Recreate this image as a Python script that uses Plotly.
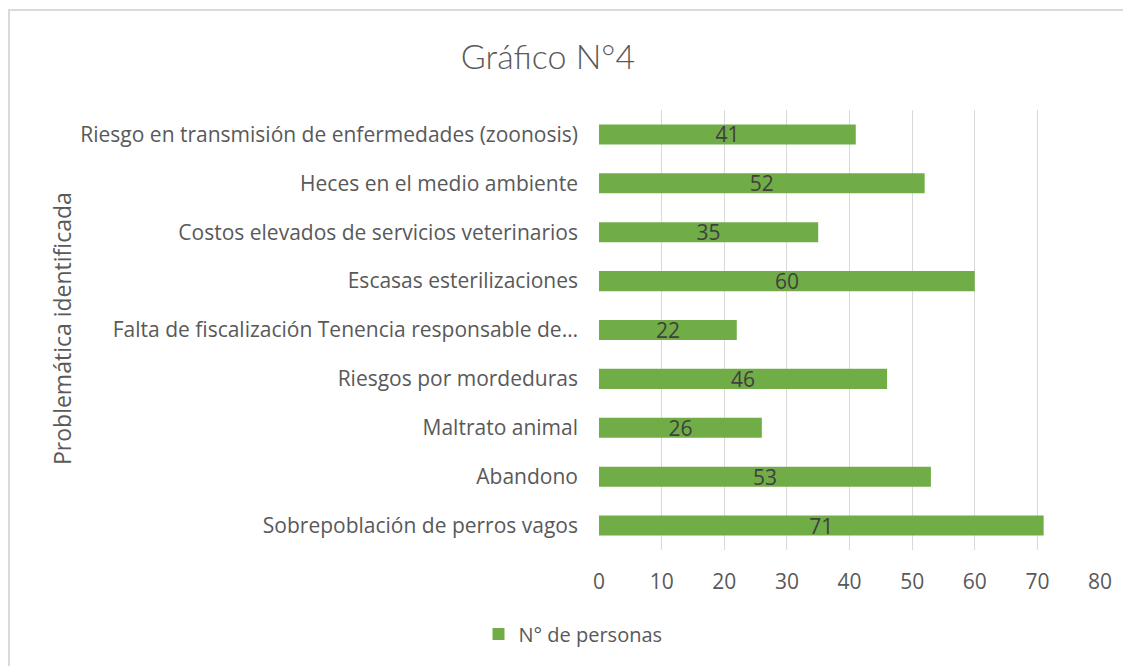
import plotly.graph_objects as go

categories = [
    "Riesgo en transmisión de enfermedades (zoonosis)",
    "Heces en el medio ambiente",
    "Costos elevados de servicios veterinarios",
    "Escasas esterilizaciones",
    "Falta de fiscalización Tenencia responsable de…",
    "Riesgos por mordeduras",
    "Maltrato animal",
    "Abandono",
    "Sobrepoblación de perros vagos",
]
values = [41, 52, 35, 60, 22, 46, 26, 53, 71]
series_name = "N° de personas"
title_text = "Gráfico N°4"
y_title = "Problemática identificada"
x_ticks = [0, 10, 20, 30, 40, 50, 60, 70, 80]

OFF = 8  # page body margin
W, H = 1131 - OFF, 666 - OFF
L, R, T, B = 599 - OFF, 31, 110 - OFF, 116
pw, ph = W - L - R, H - T - B

FONT = "Open Sans"

fig = go.Figure()
fig.add_trace(go.Bar(
    y=categories, x=values, orientation="h", name=series_name,
    marker=dict(color="#70ad47", line=dict(width=0)),
    width=0.41,
    text=[str(v) for v in values], textposition="inside", textangle=0,
    insidetextanchor="middle", constraintext="none",
    textfont=dict(family=FONT, size=21, color="#404040"),
    showlegend=True,
))

fig.update_layout(
    width=W, height=H,
    margin=dict(l=L, r=R, t=T, b=B),
    paper_bgcolor="white", plot_bgcolor="white",
    font=dict(family=FONT, color="#595959", size=21),
    title=dict(text=title_text, x=(548 - OFF) / W, xanchor="center",
               y=1 - (57 - OFF) / H, yanchor="middle",
               font=dict(family="Lato", size=34, color="#595959", weight=300)),
    xaxis=dict(range=[0, 80], tickvals=x_ticks, showgrid=True,
               gridcolor="#d9d9d9", gridwidth=1.3, zeroline=False,
               showline=False, ticks="", ticklabelstandoff=17,
               tickfont=dict(size=21, color="#595959"), fixedrange=True),
    yaxis=dict(autorange="reversed", showgrid=False, showline=False,
               ticks="", ticklabelstandoff=20,
               tickfont=dict(size=21, color="#595959"), fixedrange=True),
    legend=dict(orientation="h", xref="container", yref="container",
                x=(573 - OFF) / W, xanchor="center", y=1 - (634 - OFF) / H,
                yanchor="middle",
                font=dict(size=20, color="#595959"), itemwidth=30),
    bargap=0.59,
)

fig.add_annotation(
    text=y_title, textangle=-90, xref="paper", yref="paper",
    x=(62 - 599) / pw, y=(550 - 329) / ph, xanchor="center", yanchor="middle",
    showarrow=False, font=dict(size=23, color="#595959"),
)

# chart border (light gray frame)
fig.add_shape(type="rect", xref="paper", yref="paper",
              x0=(9 - 599) / pw, x1=(1140 - 599) / pw,
              y0=(550 - 675) / ph, y1=(550 - 10) / ph,
              line=dict(color="#d9d9d9", width=2), fillcolor="rgba(0,0,0,0)",
              layer="below")

fig.write_html("out.html")
